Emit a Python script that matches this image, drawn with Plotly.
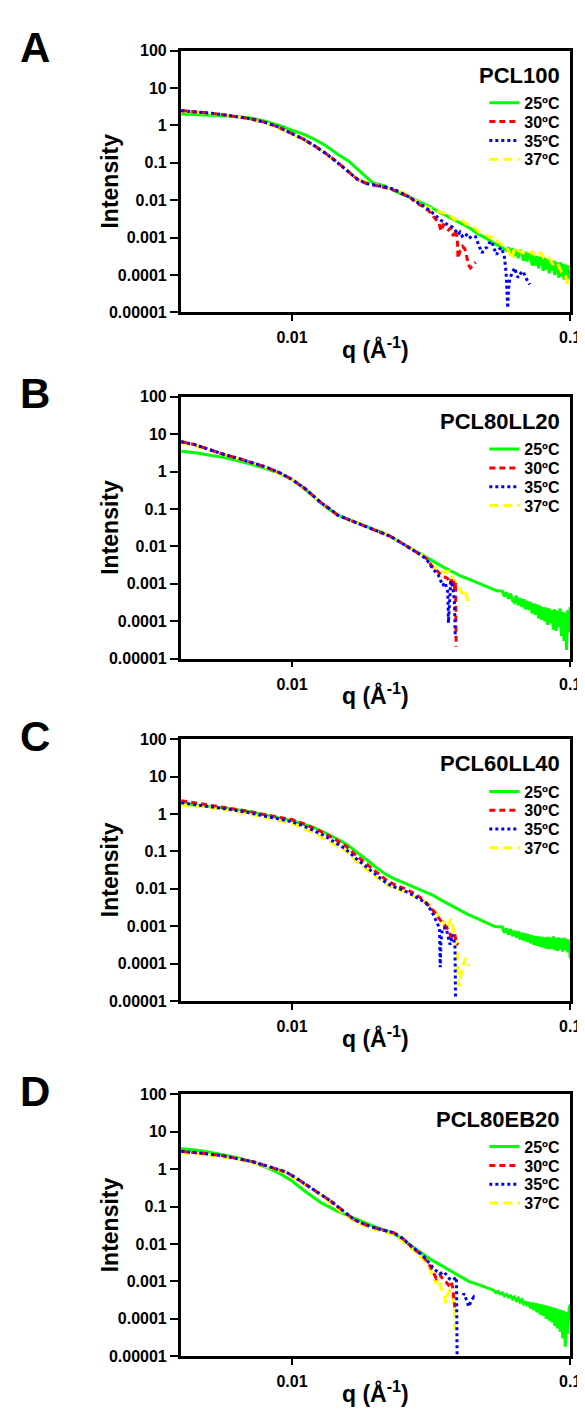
import plotly.graph_objects as go

# ---------------- DATA (q in 1/Å, Intensity) ----------------
TEMPS = ["25ºC", "30ºC", "35ºC", "37ºC"]
PANEL_LETTERS = ["A", "B", "C", "D"]
PANEL_NAMES = ["PCL100", "PCL80LL20", "PCL60LL40", "PCL80EB20"]
Y_TICKS = [0.00001, 0.0001, 0.001, 0.01, 0.1, 1, 10, 100]
Y_TICKTEXT = ["0.00001", "0.0001", "0.001", "0.01", "0.1", "1", "10", "100"]
X_TICKS = [0.01, 0.1]
X_TICKTEXT = ["0.01", "0.1"]

# Panel A : PCL100
A_25 = [(0.0040, 2.0), (0.0045, 1.95), (0.0050, 1.9), (0.0056, 1.82), (0.0063, 1.72), (0.0071, 1.58),
        (0.0080, 1.3), (0.0090, 1.0), (0.0100, 0.74), (0.0110, 0.58), (0.0120, 0.43), (0.0132, 0.29),
        (0.0146, 0.17), (0.0160, 0.11), (0.0172, 0.068), (0.0185, 0.040), (0.0195, 0.029), (0.0203, 0.027),
        (0.0215, 0.024), (0.0230, 0.019), (0.0245, 0.015), (0.0265, 0.012), (0.0285, 0.0095), (0.0310, 0.0070),
        (0.0335, 0.0050), (0.0360, 0.0037), (0.0385, 0.0029), (0.0410, 0.0023), (0.0440, 0.0017), (0.0470, 0.0012),
        (0.0500, 0.00095), (0.0530, 0.00072), (0.0560, 0.00056), (0.0590, 0.00046),
        (0.060, 0.00055), (0.061, 0.00036), (0.062, 0.00052), (0.063, 0.00032), (0.064, 0.00048),
        (0.065, 0.00028), (0.066, 0.00046), (0.067, 0.00039), (0.068, 0.00024), (0.069, 0.00042),
        (0.070, 0.00023), (0.071, 0.00038), (0.072, 0.00031), (0.073, 0.00018), (0.074, 0.00035),
        (0.075, 0.00018), (0.076, 0.00032), (0.077, 0.00015), (0.078, 0.00030), (0.079, 0.00024),
        (0.080, 0.00013), (0.081, 0.00029), (0.082, 0.00014), (0.083, 0.00026), (0.084, 0.00011),
        (0.085, 0.00025), (0.086, 0.00013), (0.087, 0.00024), (0.088, 0.00010), (0.089, 0.00022),
        (0.090, 0.00016), (0.091, 0.000085), (0.092, 0.00022), (0.093, 0.00009), (0.094, 0.00020),
        (0.095, 0.000075), (0.096, 0.00019), (0.097, 0.00009), (0.098, 0.00018), (0.099, 0.000065),
        (0.100, 0.00014)]
A_30 = [(0.0040, 2.5), (0.0045, 2.35), (0.0050, 2.15), (0.0056, 1.95), (0.0063, 1.75), (0.0071, 1.5),
        (0.0080, 1.2), (0.0090, 0.88), (0.0100, 0.60), (0.0110, 0.43), (0.0120, 0.29), (0.0132, 0.18),
        (0.0146, 0.102), (0.0160, 0.058), (0.0172, 0.036), (0.0185, 0.028), (0.0195, 0.026), (0.0205, 0.024),
        (0.0220, 0.021), (0.0235, 0.018), (0.0251, 0.0145), (0.0265, 0.012), (0.0280, 0.0085), (0.0295, 0.0068),
        (0.0310, 0.0052), (0.0322, 0.0038), (0.0330, 0.0031), (0.0338, 0.0024), (0.0343, 0.0015), (0.0350, 0.0022),
        (0.0358, 0.0019), (0.0365, 0.0016), (0.0372, 0.0018), (0.0380, 0.0011), (0.0386, 0.0016), (0.0393, 0.0010),
        (0.0395, 0.00028), (0.0402, 0.00045), (0.0410, 0.00058), (0.0418, 0.00050), (0.0425, 0.00030),
        (0.0432, 0.00018), (0.0438, 0.000155), (0.0447, 0.00019), (0.0457, 0.00022)]
A_35 = [(0.0040, 2.45), (0.0045, 2.33), (0.0050, 2.15), (0.0056, 1.95), (0.0063, 1.75), (0.0071, 1.5),
        (0.0080, 1.2), (0.0090, 0.88), (0.0100, 0.60), (0.0110, 0.43), (0.0120, 0.29), (0.0132, 0.18),
        (0.0146, 0.10), (0.0160, 0.057), (0.0172, 0.036), (0.0185, 0.028), (0.0195, 0.026), (0.0205, 0.025),
        (0.0220, 0.022), (0.0235, 0.019), (0.0251, 0.015), (0.0265, 0.012), (0.0280, 0.0090), (0.0295, 0.0072),
        (0.0310, 0.0055), (0.0325, 0.0042), (0.0340, 0.0030), (0.0352, 0.0026), (0.0365, 0.0021), (0.0378, 0.0019),
        (0.0388, 0.0015), (0.0395, 0.0012), (0.0402, 0.0014), (0.0409, 0.0011), (0.0420, 0.0013), (0.0432, 0.00095),
        (0.0445, 0.0011), (0.0457, 0.00105), (0.0470, 0.0006), (0.0482, 0.00039), (0.0492, 0.00050),
        (0.0502, 0.00055), (0.0512, 0.00072), (0.0522, 0.00080), (0.0533, 0.00050), (0.0544, 0.00035),
        (0.0555, 0.00048), (0.0567, 0.00054), (0.0580, 0.00030), (0.0588, 0.00012), (0.0593, 0.000030),
        (0.0596, 0.000013), (0.0600, 0.000040), (0.0606, 0.000076), (0.0620, 0.00012), (0.0632, 0.000155),
        (0.0642, 0.00010), (0.0650, 0.000085), (0.0663, 0.00011), (0.0676, 0.000126), (0.0695, 0.00008),
        (0.0715, 0.000056)]
A_37 = [(0.0040, 2.4), (0.0050, 2.1), (0.0063, 1.72), (0.0080, 1.18), (0.0100, 0.59), (0.0120, 0.29),
        (0.0146, 0.10), (0.0172, 0.036), (0.0195, 0.027), (0.0220, 0.022), (0.0251, 0.016), (0.0280, 0.0095),
        (0.0310, 0.0062), (0.0340, 0.0048), (0.0368, 0.0040), (0.0385, 0.0030), (0.0400, 0.0033), (0.0420, 0.0024),
        (0.0450, 0.0019), (0.0470, 0.0014), (0.0495, 0.0012), (0.0515, 0.0010), (0.0530, 0.0011), (0.0545, 0.0008),
        (0.0560, 0.0007), (0.0580, 0.0006), (0.0600, 0.00045), (0.0618, 0.00026), (0.0630, 0.00055),
        (0.0650, 0.00045), (0.0670, 0.00040), (0.0700, 0.00035), (0.0730, 0.00042), (0.0760, 0.00030),
        (0.0785, 0.00039), (0.0810, 0.00026), (0.0840, 0.00028), (0.0870, 0.00018), (0.0900, 0.00020),
        (0.0930, 0.00012), (0.0960, 0.00010), (0.0980, 0.000051), (0.1000, 0.00008)]

# Panel B : PCL80LL20
B_25 = [(0.0040, 3.5), (0.0045, 3.2), (0.0050, 2.8), (0.0056, 2.45), (0.0063, 2.0), (0.0071, 1.6),
        (0.0080, 1.22), (0.0090, 0.90), (0.0100, 0.62), (0.0110, 0.37), (0.0120, 0.21), (0.0132, 0.115),
        (0.0146, 0.069), (0.0160, 0.052), (0.0172, 0.042), (0.0192, 0.031), (0.0210, 0.024), (0.0226, 0.0186),
        (0.0245, 0.013), (0.0265, 0.0093), (0.0285, 0.0066), (0.0305, 0.0050), (0.0325, 0.0038), (0.0350, 0.0028),
        (0.0378, 0.0021), (0.0405, 0.0016), (0.0432, 0.00134), (0.0460, 0.0011), (0.0490, 0.0009), (0.0520, 0.00075),
        (0.0545, 0.00065), (0.057, 0.00064), (0.058, 0.00046), (0.059, 0.00060), (0.060, 0.00040),
        (0.061, 0.00055), (0.062, 0.00036), (0.063, 0.00032), (0.064, 0.00048), (0.065, 0.00027),
        (0.066, 0.00042), (0.067, 0.00024), (0.068, 0.00039), (0.069, 0.00021), (0.070, 0.00035),
        (0.071, 0.00020), (0.072, 0.00033), (0.073, 0.00016), (0.074, 0.00030), (0.075, 0.00015),
        (0.076, 0.00028), (0.077, 0.00012), (0.078, 0.00026), (0.079, 0.00011), (0.080, 0.00024),
        (0.081, 0.00010), (0.082, 0.00023), (0.083, 0.00008), (0.084, 0.00022), (0.085, 0.00009),
        (0.086, 0.00020), (0.087, 0.00006), (0.088, 0.00021), (0.089, 0.000055), (0.090, 0.00019),
        (0.091, 0.00007), (0.092, 0.00022), (0.093, 0.00004), (0.094, 0.00018), (0.095, 0.00003),
        (0.096, 0.00017), (0.097, 0.000017), (0.098, 0.00020), (0.099, 0.00005), (0.100, 0.00024)]
B_30 = [(0.0040, 6.4), (0.0045, 5.2), (0.0050, 4.0), (0.0056, 3.0), (0.0065, 2.2), (0.0071, 1.8),
        (0.0080, 1.35), (0.0090, 0.95), (0.0100, 0.62), (0.0111, 0.36), (0.0120, 0.21), (0.0128, 0.142),
        (0.0137, 0.10), (0.0146, 0.069), (0.0160, 0.052), (0.0172, 0.042), (0.0192, 0.031), (0.0210, 0.024),
        (0.0226, 0.0186), (0.0245, 0.013), (0.0265, 0.0092), (0.0285, 0.0066), (0.0304, 0.0048), (0.0320, 0.0028),
        (0.0330, 0.0024), (0.0339, 0.0019), (0.0350, 0.0016), (0.0363, 0.00136), (0.0370, 0.0010),
        (0.0374, 0.0013), (0.0378, 0.0009), (0.0382, 0.0012), (0.0385, 0.0006), (0.0387, 0.0011),
        (0.0388, 0.0002), (0.0389, 0.000021)]
B_35 = [(0.0040, 6.3), (0.0045, 5.2), (0.0050, 4.0), (0.0056, 3.0), (0.0065, 2.2), (0.0071, 1.8),
        (0.0080, 1.35), (0.0090, 0.95), (0.0100, 0.62), (0.0111, 0.36), (0.0120, 0.21), (0.0128, 0.142),
        (0.0137, 0.10), (0.0146, 0.069), (0.0160, 0.052), (0.0172, 0.042), (0.0192, 0.031), (0.0210, 0.024),
        (0.0226, 0.0186), (0.0245, 0.013), (0.0265, 0.0092), (0.0285, 0.0065), (0.0304, 0.0046), (0.0320, 0.0026),
        (0.0336, 0.0017), (0.0348, 0.0009), (0.0355, 0.0011), (0.0363, 0.0006), (0.0365, 0.00009),
        (0.0368, 0.0004), (0.0372, 0.0012), (0.0378, 0.0008), (0.0383, 0.0004), (0.0385, 0.00012),
        (0.0386, 0.000037)]
B_37 = [(0.0040, 6.0), (0.0050, 3.9), (0.0065, 2.15), (0.0080, 1.33), (0.0100, 0.61), (0.0120, 0.21),
        (0.0146, 0.068), (0.0172, 0.042), (0.0192, 0.031), (0.0226, 0.0186), (0.0265, 0.0093), (0.0304, 0.0049),
        (0.0320, 0.0030), (0.0340, 0.0024), (0.0355, 0.0020), (0.0368, 0.0022), (0.0378, 0.0014), (0.0390, 0.0010),
        (0.0400, 0.0008), (0.0409, 0.00055), (0.0415, 0.0007), (0.0425, 0.00045), (0.0432, 0.00025)]

# Panel C : PCL60LL40
C_25 = [(0.0040, 1.88), (0.0050, 1.6), (0.0060, 1.38), (0.0070, 1.17), (0.0080, 0.96), (0.0090, 0.80),
        (0.0100, 0.66), (0.0110, 0.53), (0.0120, 0.43), (0.0130, 0.33), (0.0140, 0.25), (0.0150, 0.19),
        (0.0160, 0.14), (0.0170, 0.10), (0.0180, 0.072), (0.0190, 0.052), (0.0200, 0.038), (0.0210, 0.029),
        (0.0219, 0.0235), (0.0235, 0.018), (0.0255, 0.0140), (0.0275, 0.0112), (0.0296, 0.0090), (0.0320, 0.0068),
        (0.0345, 0.0049), (0.0367, 0.0038), (0.0395, 0.0028), (0.0432, 0.0020), (0.0469, 0.00155),
        (0.0500, 0.00125), (0.0535, 0.00098), (0.057, 0.00095), (0.058, 0.00066), (0.059, 0.00088),
        (0.060, 0.00060), (0.061, 0.00084), (0.062, 0.00054), (0.063, 0.00076), (0.064, 0.00050),
        (0.065, 0.00073), (0.066, 0.00044), (0.067, 0.00067), (0.068, 0.00042), (0.069, 0.00064),
        (0.070, 0.00038), (0.071, 0.00061), (0.072, 0.00035), (0.073, 0.00057), (0.074, 0.00032),
        (0.075, 0.00054), (0.076, 0.00030), (0.077, 0.00053), (0.078, 0.00028), (0.079, 0.00052),
        (0.080, 0.00027), (0.081, 0.00050), (0.082, 0.00025), (0.083, 0.00052), (0.084, 0.00024),
        (0.085, 0.00049), (0.086, 0.00025), (0.087, 0.00053), (0.088, 0.00023), (0.089, 0.00048),
        (0.090, 0.00022), (0.091, 0.00050), (0.092, 0.00024), (0.093, 0.00047), (0.094, 0.00021),
        (0.095, 0.00049), (0.096, 0.00023), (0.097, 0.00046), (0.098, 0.00020), (0.099, 0.00044),
        (0.100, 0.00014)]
C_30 = [(0.0040, 2.26), (0.0050, 1.75), (0.0059, 1.44), (0.0070, 1.18), (0.0080, 0.96), (0.0090, 0.82),
        (0.0100, 0.71), (0.0110, 0.55), (0.0120, 0.42), (0.0126, 0.35), (0.0140, 0.23), (0.0156, 0.14),
        (0.0170, 0.078), (0.0188, 0.042), (0.0200, 0.028), (0.0219, 0.0167), (0.0235, 0.0125), (0.0255, 0.0101),
        (0.0270, 0.0080), (0.0288, 0.0060), (0.0305, 0.0040), (0.0325, 0.0024), (0.0340, 0.0015),
        (0.0356, 0.00098), (0.0365, 0.0008), (0.0372, 0.00055), (0.0378, 0.00048), (0.0385, 0.0006),
        (0.0390, 0.00035), (0.0396, 0.00032)]
C_35 = [(0.0040, 2.0), (0.0050, 1.6), (0.0060, 1.32), (0.0070, 1.08), (0.0080, 0.88), (0.0090, 0.74),
        (0.0100, 0.62), (0.0110, 0.48), (0.0120, 0.36), (0.0130, 0.27), (0.0140, 0.19), (0.0156, 0.115),
        (0.0170, 0.064), (0.0188, 0.035), (0.0200, 0.025), (0.0219, 0.014), (0.0235, 0.011), (0.0251, 0.0092),
        (0.0270, 0.0070), (0.0290, 0.0052), (0.0304, 0.0041), (0.0318, 0.0025), (0.0330, 0.00133),
        (0.0339, 0.00089), (0.0340, 0.00030), (0.0341, 0.00008), (0.0343, 0.0004), (0.0348, 0.0009),
        (0.0358, 0.0009), (0.0365, 0.0005), (0.0370, 0.00032), (0.0378, 0.0006), (0.0385, 0.00032),
        (0.0386, 0.00008), (0.0387, 0.0000112)]
C_37 = [(0.0040, 1.75), (0.0050, 1.5), (0.0060, 1.25), (0.0070, 1.02), (0.0080, 0.82), (0.0090, 0.67),
        (0.0100, 0.55), (0.0110, 0.42), (0.0120, 0.31), (0.0130, 0.22), (0.0140, 0.16), (0.0156, 0.105),
        (0.0170, 0.055), (0.0188, 0.030), (0.0200, 0.021), (0.0219, 0.013), (0.0235, 0.010), (0.0255, 0.0085),
        (0.0270, 0.0068), (0.0288, 0.0055), (0.0310, 0.0040), (0.0330, 0.0022), (0.0350, 0.0013),
        (0.0362, 0.0008), (0.0372, 0.0016), (0.0378, 0.0010), (0.0385, 0.0005), (0.0392, 0.00025),
        (0.0396, 0.00003), (0.0400, 0.000025), (0.0405, 0.00005), (0.0412, 0.00009), (0.0420, 0.00014),
        (0.0428, 0.00010), (0.0433, 0.000085)]

# Panel D : PCL80EB20
D_25 = [(0.0040, 3.5), (0.0045, 3.25), (0.0050, 2.9), (0.0056, 2.5), (0.0063, 2.05), (0.0071, 1.6),
        (0.0080, 1.15), (0.0090, 0.78), (0.0100, 0.48), (0.0111, 0.26), (0.0120, 0.17), (0.0128, 0.123),
        (0.0137, 0.095), (0.0146, 0.074), (0.0157, 0.060), (0.0167, 0.049), (0.0180, 0.040), (0.0192, 0.032),
        (0.0210, 0.025), (0.0232, 0.019), (0.0250, 0.013), (0.0271, 0.0085), (0.0295, 0.0055), (0.0316, 0.0038),
        (0.0340, 0.0028), (0.0368, 0.0020), (0.0400, 0.0014), (0.0432, 0.00100), (0.0465, 0.00083),
        (0.0498, 0.00068), (0.053, 0.00058), (0.054, 0.00050), (0.055, 0.00054), (0.056, 0.00046),
        (0.057, 0.00049), (0.058, 0.00041), (0.059, 0.00045), (0.060, 0.00038), (0.061, 0.00041),
        (0.062, 0.00034), (0.063, 0.00038), (0.064, 0.00031), (0.065, 0.00035), (0.066, 0.00028),
        (0.067, 0.00032), (0.068, 0.00025), (0.069, 0.00029), (0.070, 0.00022), (0.071, 0.00028),
        (0.072, 0.00019), (0.073, 0.00027), (0.074, 0.00017), (0.075, 0.00026), (0.076, 0.00015),
        (0.077, 0.00025), (0.078, 0.00013), (0.079, 0.00024), (0.080, 0.00012), (0.081, 0.00023),
        (0.082, 0.00010), (0.083, 0.00022), (0.084, 0.00009), (0.085, 0.00021), (0.086, 0.00008),
        (0.087, 0.00020), (0.088, 0.000065), (0.089, 0.00019), (0.090, 0.000055), (0.091, 0.00018),
        (0.092, 0.000045), (0.093, 0.00017), (0.094, 0.00003), (0.095, 0.00016), (0.096, 0.000018),
        (0.097, 0.00015), (0.098, 0.00004), (0.099, 0.00018), (0.100, 0.00024)]
D_30 = [(0.0040, 3.0), (0.0045, 2.8), (0.0050, 2.55), (0.0056, 2.3), (0.0065, 1.9), (0.0072, 1.6),
        (0.0080, 1.26), (0.0090, 0.98), (0.0095, 0.845), (0.0100, 0.68), (0.0111, 0.41), (0.0120, 0.29),
        (0.0128, 0.205), (0.0137, 0.145), (0.0146, 0.10), (0.0157, 0.065), (0.0167, 0.045), (0.0180, 0.035),
        (0.0192, 0.029), (0.0210, 0.024), (0.0232, 0.020), (0.0250, 0.014), (0.0271, 0.0080), (0.0295, 0.0048),
        (0.0310, 0.0030), (0.0320, 0.0019), (0.0330, 0.0012), (0.0340, 0.0015), (0.0350, 0.0011),
        (0.0358, 0.00096), (0.0365, 0.0008), (0.0372, 0.0010), (0.0378, 0.0007), (0.0381, 0.0004),
        (0.0383, 0.00031), (0.0385, 0.00020)]
D_35 = [(0.0040, 3.0), (0.0045, 2.8), (0.0050, 2.55), (0.0056, 2.3), (0.0065, 1.9), (0.0072, 1.6),
        (0.0080, 1.26), (0.0090, 0.98), (0.0095, 0.845), (0.0100, 0.68), (0.0111, 0.41), (0.0120, 0.29),
        (0.0128, 0.205), (0.0137, 0.145), (0.0146, 0.10), (0.0157, 0.065), (0.0167, 0.045), (0.0180, 0.035),
        (0.0192, 0.029), (0.0210, 0.024), (0.0232, 0.020), (0.0250, 0.014), (0.0271, 0.0082), (0.0295, 0.0050),
        (0.0310, 0.0031), (0.0320, 0.0024), (0.0330, 0.0019), (0.0340, 0.0016), (0.0352, 0.0018),
        (0.0363, 0.0013), (0.0372, 0.0011), (0.0378, 0.0011), (0.0385, 0.0012), (0.0390, 0.0013),
        (0.0391, 0.0002), (0.0392, 0.00001), (0.0400, None), (0.0412, 0.00042), (0.0415, 0.00047),
        (0.0425, 0.00030), (0.0432, 0.00021), (0.0440, 0.00030), (0.0450, 0.00038), (0.0455, 0.00033)]
D_37 = [(0.0040, 2.75), (0.0050, 2.4), (0.0065, 1.8), (0.0080, 1.2), (0.0095, 0.80), (0.0111, 0.40),
        (0.0128, 0.19), (0.0146, 0.09), (0.0167, 0.040), (0.0192, 0.026), (0.0232, 0.018), (0.0271, 0.0072),
        (0.0295, 0.0040), (0.0310, 0.0026), (0.0320, 0.0015), (0.0328, 0.0009), (0.0335, 0.0012),
        (0.0342, 0.0007), (0.0350, 0.0005), (0.0358, 0.00026), (0.0362, 0.00045), (0.0370, 0.0006),
        (0.0377, 0.0004), (0.0383, 0.00021), (0.0385, 0.00005)]

PANELS = [
    [A_25, A_30, A_35, A_37],
    [B_25, B_30, B_35, B_37],
    [C_25, C_30, C_35, C_37],
    [D_25, D_30, D_35, D_37],
]

# ---------------- STYLE / LAYOUT ----------------
W, H = 585, 1412
FONT = "Liberation Sans, Arial, sans-serif"
COLORS = ["#00ff00", "#ff0000", "#0000ff", "#ffff00"]
DASHES = ["solid", "6px,4px", "3px,3px", "9px,5px"]
DRAW_ORDER = [0, 3, 1, 2]
PANEL_TOPS = [35, 385.5, 732, 1091.5]
PANEL_H = 265
X_LEFT, X_RIGHT = 176, 573
LEG_OFFS = [53, 72, 91, 110]


def px_x(v):
    return v / W


def px_y(v):
    return 1 - v / H


fig = go.Figure()
layout = dict(
    width=W, height=H, margin=dict(l=0, r=0, t=0, b=0),
    paper_bgcolor="white", plot_bgcolor="white",
    font=dict(family=FONT, color="black"),
    annotations=[], hovermode=False,
)

for p in range(4):
    ax = "" if p == 0 else str(p + 1)
    top = PANEL_TOPS[p]
    layout["xaxis" + ax] = dict(
        domain=[px_x(X_LEFT), px_x(X_RIGHT)], anchor="y" + ax, type="log",
        range=[-2.4, -1], tickvals=X_TICKS, ticktext=X_TICKTEXT,
        showline=True, linewidth=2.5, linecolor="black", mirror=True,
        ticks="outside", ticklen=6, tickwidth=2, tickcolor="black",
        showgrid=False, zeroline=False, ticklabeloverflow="allow", ticklabelstandoff=3,
        tickfont=dict(family=FONT, size=16, weight="bold", color="black"),
    )
    layout["yaxis" + ax] = dict(
        domain=[px_y(top + PANEL_H), px_y(top)], anchor="x" + ax, type="log",
        range=[-5, 2], tickvals=Y_TICKS, ticktext=Y_TICKTEXT,
        showline=True, linewidth=2.5, linecolor="black", mirror=True,
        ticks="outside", ticklen=8, tickwidth=2, tickcolor="black",
        showgrid=False, zeroline=False, ticklabeloverflow="allow",
        tickfont=dict(family=FONT, size=16, weight="bold", color="black"),
    )
    # panel letter
    layout["annotations"].append(dict(
        text=PANEL_LETTERS[p], x=px_x(28), y=px_y(top - 3), xref="paper", yref="paper",
        xanchor="center", yanchor="middle", showarrow=False,
        font=dict(family=FONT, size=42, weight="bold", color="black")))
    # sample name
    layout["annotations"].append(dict(
        text=PANEL_NAMES[p], x=px_x(565), y=px_y(top + 25), xref="paper", yref="paper",
        xanchor="right", yanchor="middle", showarrow=False,
        font=dict(family=FONT, size=22, weight="bold", color="black")))
    # y title
    layout["annotations"].append(dict(
        text="Intensity", x=px_x(104), y=px_y(top + PANEL_H / 2), xref="paper", yref="paper",
        xanchor="center", yanchor="middle", showarrow=False, textangle=-90,
        font=dict(family=FONT, size=23, weight="bold", color="black")))
    # x title
    layout["annotations"].append(dict(
        text="q (Å<sup>-1</sup>)", x=px_x((X_LEFT + X_RIGHT) / 2), y=px_y(top + PANEL_H + 36),
        xref="paper", yref="paper", xanchor="center", yanchor="middle", showarrow=False,
        font=dict(family=FONT, size=23, weight="bold", color="black")))

    # legends: one per entry
    for j in range(4):
        k = p * 4 + j + 1
        lname = "legend" if k == 1 else "legend%d" % k
        layout[lname] = dict(
            x=px_x(568), xanchor="right", y=px_y(top + LEG_OFFS[j]), yanchor="middle",
            bgcolor="rgba(0,0,0,0)", borderwidth=0,
            font=dict(family=FONT, size=16, weight="bold", color="black"),
        )

    for j in DRAW_ORDER:
        data = PANELS[p][j]
        qs = [d[0] for d in data]
        vals = [d[1] for d in data]
        k = p * 4 + j + 1
        fig.add_trace(go.Scatter(
            x=qs, y=vals, mode="lines", name=TEMPS[j],
            line=dict(color=COLORS[j], width=3, dash=DASHES[j]),
            xaxis="x" + ax, yaxis="y" + ax, connectgaps=False,
            legend="legend" if k == 1 else "legend%d" % k, showlegend=True,
        ))

fig.update_layout(**layout)
fig.write_html("out.html", config={"displayModeBar": False})
